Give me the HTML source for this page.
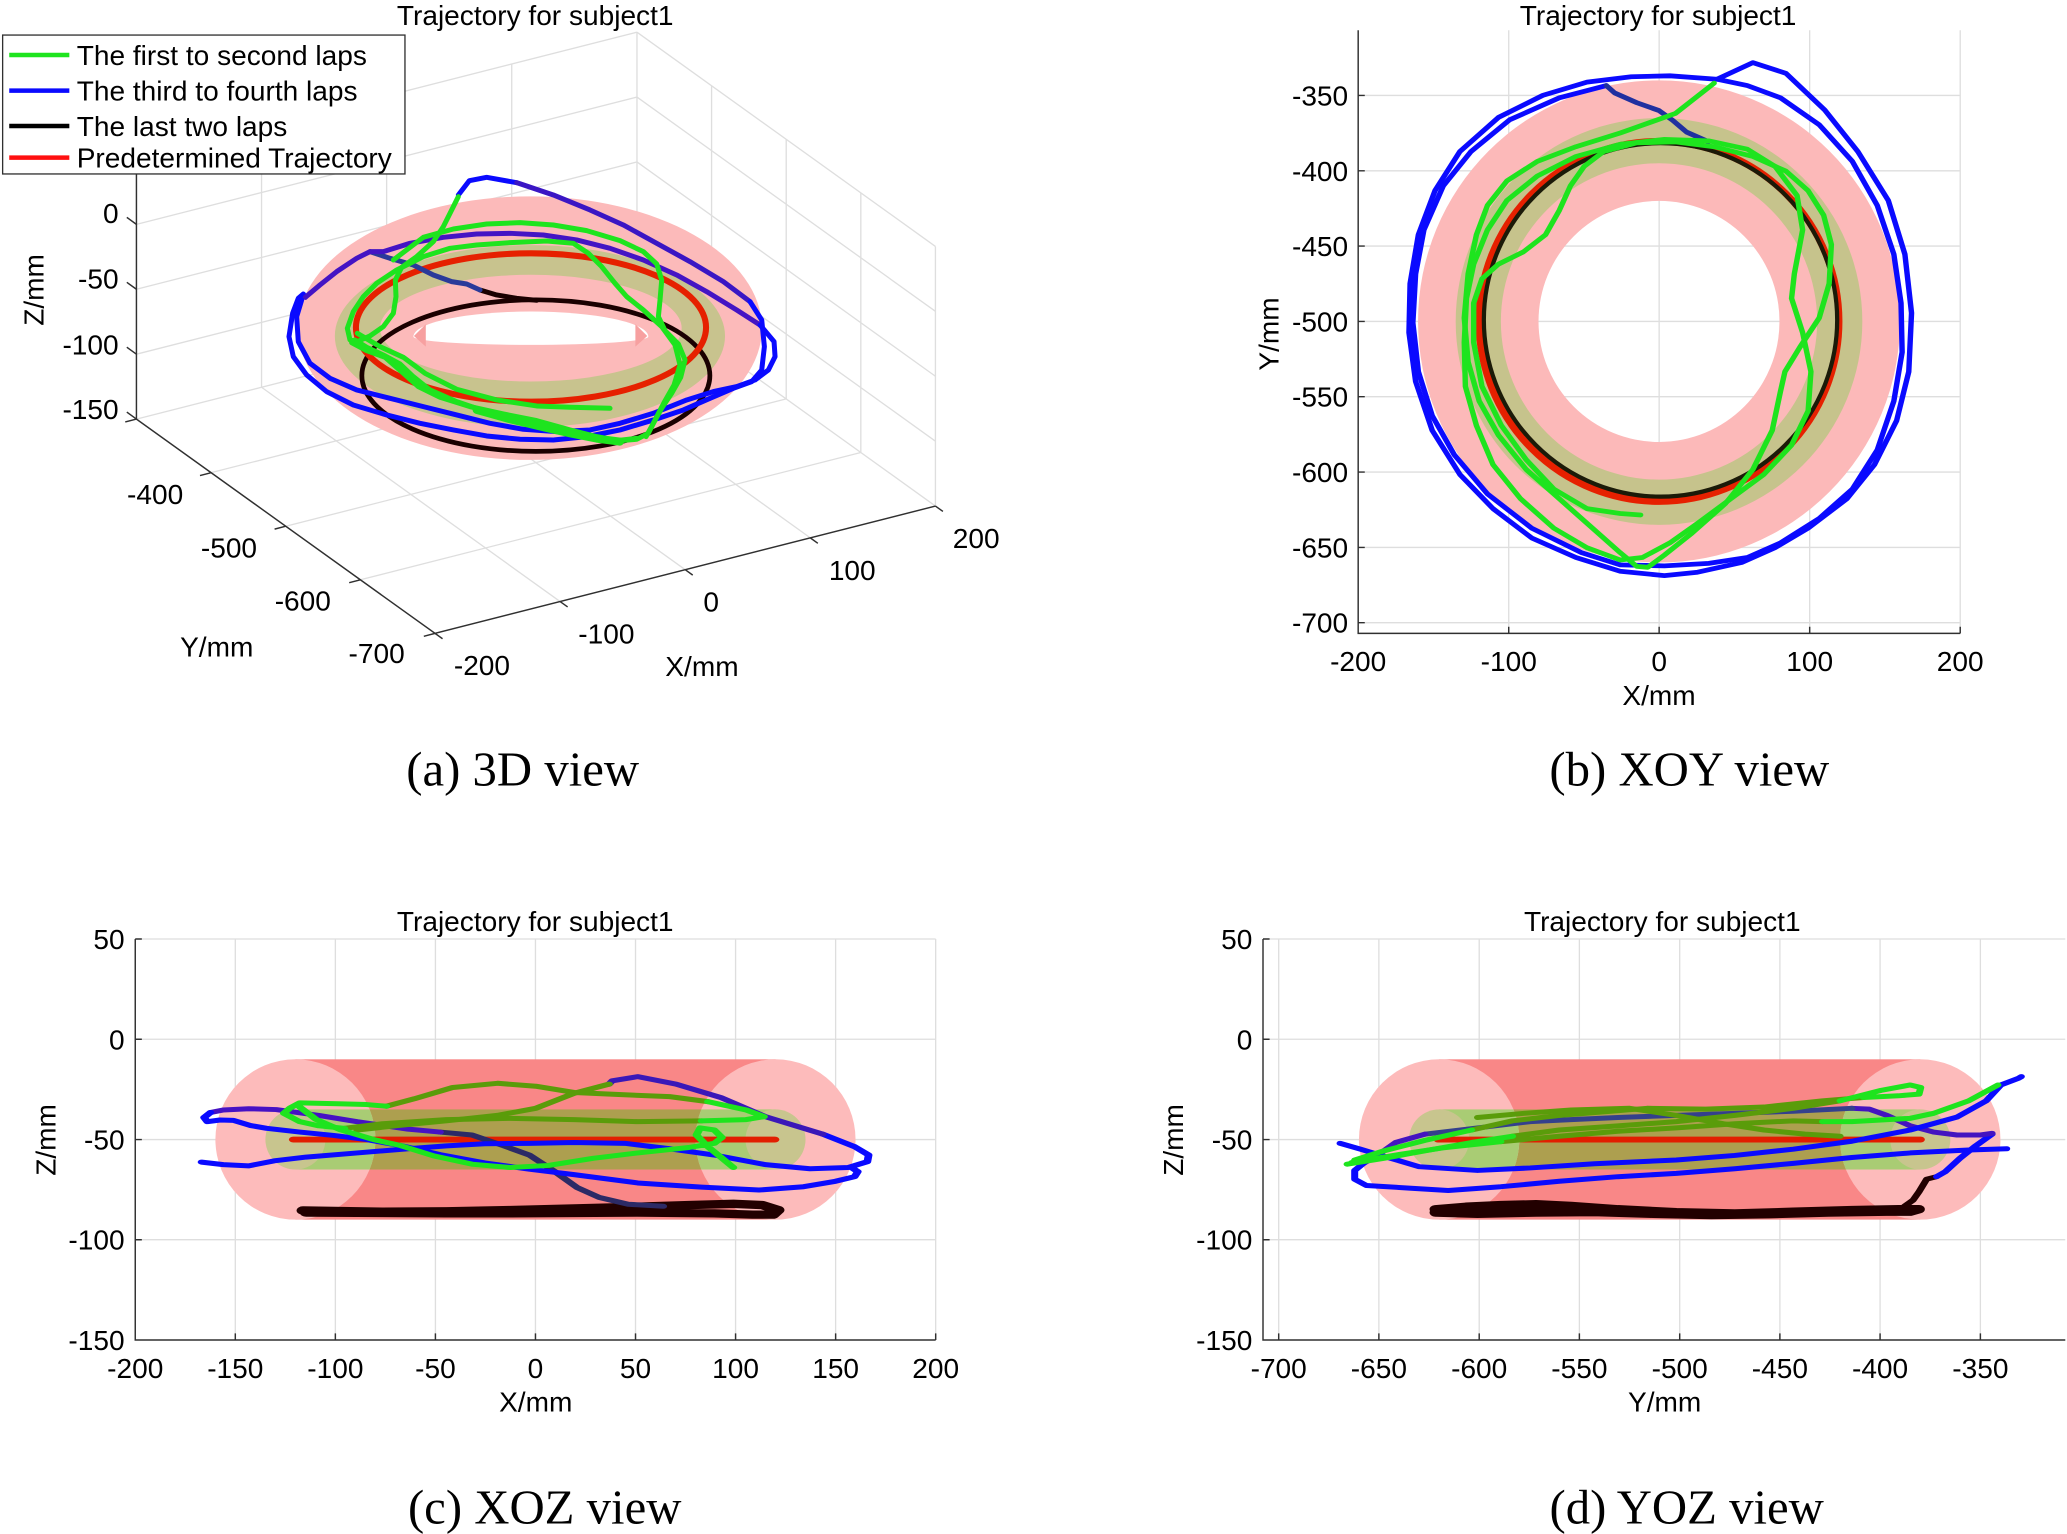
<!DOCTYPE html>
<html><head><meta charset="utf-8">
<style>
html,body{margin:0;padding:0;background:#fff;}
svg{display:block;}
text{font-family:"Liberation Sans",Arial,sans-serif;fill:#000;font-size:21.3px;}
.cap{font-family:"Liberation Serif","Times New Roman",serif;font-size:37px;}
.g{stroke:#dedede;stroke-width:1;fill:none;}
.ax{stroke:#303030;stroke-width:1.1;fill:none;}
.ns{fill:none;stroke-linejoin:round;stroke-linecap:round;}
.e{text-anchor:end;}
.m{text-anchor:middle;}
</style></head><body>
<svg width="2067" height="1534" viewBox="0 0 1568 1164" preserveAspectRatio="none" xmlns="http://www.w3.org/2000/svg">
<defs>
<clipPath id="cc"><circle cx="-120" cy="-50" r="40"/><circle cx="120" cy="-50" r="40"/></clipPath>
<clipPath id="cd"><circle cx="-620" cy="-50" r="40"/><circle cx="-380" cy="-50" r="40"/></clipPath>
</defs>
<rect x="0" y="0" width="1568" height="1164" fill="#fff"/>

<!-- ================= (a) 3D ================= -->
<g class="g">
<path d="M424.9,456.45 L198.4,293.85 M519.8,432.3 L293.3,269.7 M614.7,408.15 L388.2,245.55 M709.6,384 L483.2,221.4 M273.4,439.95 L653,343.35 M216.8,399.3 L596.4,302.7 M160.2,358.65 L539.8,262.05 M103.5,318 L483.2,221.4"/>
<path d="M198.4,293.85 V96.85 M293.3,269.7 V72.7 M388.2,245.55 V48.55 M483.2,221.4 V24.4"/>
<path d="M103.5,268.75 L483.2,172.15 M103.5,219.5 L483.2,122.9 M103.5,170.25 L483.2,73.65 M103.5,121 L483.2,24.4"/>
<path d="M709.6,384 V187 M653,343.35 V146.35 M596.4,302.7 V105.7 M539.8,262.05 V65.05"/>
<path d="M709.6,334.75 L483.2,172.15 M709.6,285.5 L483.2,122.9 M709.6,236.25 L483.2,73.65 M709.6,187 L483.2,24.4"/>
</g>
<path class="ax" d="M103.5,121 V318 L330,480.6 L709.6,384"/>
<path class="ax" d="M103.5,318 l-7.3,-5.3 M103.5,268.75 l-7.3,-5.3 M103.5,219.5 l-7.3,-5.3 M103.5,170.25 l-7.3,-5.3 M103.5,121 l-7.3,-5.3
M330,480.6 l-8.5,2.2 M273.4,439.95 l-8.5,2.2 M216.8,399.3 l-8.5,2.2 M160.2,358.65 l-8.5,2.2 M103.5,318 l-8.5,2.2
M330,480.6 l5.7,4.1 M424.9,456.45 l5.7,4.1 M519.8,432.3 l5.7,4.1 M614.7,408.15 l5.7,4.1 M709.6,384 l5.7,4.1"/>

<!-- torus 3D -->
<ellipse cx="402" cy="249" rx="176" ry="100" fill="#fcbaba"/>
<path d="M254,255 a148,69 0 1,0 296,0 a148,69 0 1,0 -296,0 Z M288.3,249 a114.4,40.5 0 1,0 228.8,0 a114.4,40.5 0 1,0 -228.8,0 Z" fill="#c8c38e" fill-rule="evenodd"/>
<path d="M313.6,255.4 A89.1,19 0 0 1 491.8,255.4 A89.1,6.3 0 0 1 313.6,255.4 Z" fill="#fff"/>
<path d="M314,255 L323,246 L323,263 Z M491,255 L482,246 L482,263 Z" fill="#f7a0a0"/>
<ellipse cx="406.5" cy="285" rx="132" ry="57.5" fill="none" stroke="#1a0000" stroke-width="3.6"/>
<ellipse cx="402.8" cy="248.5" rx="132.8" ry="56.3" fill="none" stroke="#e62000" stroke-width="4.6"/>

<g transform="matrix(0.2529 0 0 0.2529 204.8 121.4)" stroke-width="15">
<path class="ns" stroke="#1a0000" d="M630,390 L680,405 L740,415 L800,421"/>
<path class="ns" stroke="#2a3a9a" d="M300,275 L360,295 L430,315 L490,345 L545,365 L590,372 L630,390"/>
<path class="ns" stroke="#0a0aff" d="M565,105 L598,62 L650,52 L740,68"/>
<path class="ns" stroke="#3a16c4" d="M740,68 L850,105 L960,150 L1060,195 L1160,250 L1260,305 L1360,365 L1440,425"/>
<path class="ns" stroke="#0a0aff" d="M1440,425 L1475,480 L1483,560 L1475,630 L1445,665 L1390,685 L1320,715 L1240,750 L1150,780 L1050,810 L950,830 L850,840 L750,838 L650,828 L550,810 L450,790 L350,765 L250,735 L170,695 L110,645 L70,590 L57,530 L68,460 L85,415 L100,402 L106,412"/>
<path class="ns" stroke="#4414c4" d="M106,412 L150,375 L200,335 L260,295 L300,275 L340,275 L420,250 L520,232 L620,222 L720,220 L820,225 L920,240 L1020,265 L1120,300 L1220,345 L1310,395 L1400,450 L1470,495"/>
<path class="ns" stroke="#0a0aff" d="M1470,495 L1512,545 L1515,590 L1495,630 L1455,660 L1400,680 L1330,695 L1250,720 L1150,760 L1050,790 L960,810 L860,815 L760,808 L660,790 L560,765 L460,740 L360,715 L260,690 L180,655 L120,610 L85,545 L80,470 L95,420"/>
<g stroke="#1ee41e">
<path class="ns" d="M565,110 L545,150 L520,200 L490,245 L440,290 L395,322 L376,360 L378,410 L370,460 L340,500 L300,528 L262,545 L240,540 L232,505 L250,455 L280,410 L320,370 L380,330 L460,290 L540,265 L620,255 L720,248 L830,243 L910,250 L955,280 L995,320 L1035,370 L1070,410 L1120,450 L1175,500 L1215,555 L1230,615 L1212,675 L1182,728 L1155,780 L1135,820 L1100,838 L1050,842 L990,835 L930,822 L870,812 L800,795 L720,775 L640,752 L560,725 L480,690 L430,650 L390,612 L340,585 L290,562 L255,540"/>
<path class="ns" d="M370,300 L460,232 L550,207 L650,192 L750,188 L850,195 L950,212 L1050,242 L1120,275 L1160,312 L1175,360 L1170,420 L1165,470 L1185,512 L1225,552 L1245,600 L1232,652 L1205,700 L1175,745 L1150,790 L1128,830"/>
<path class="ns" d="M245,548 L290,572 L345,592 L400,640 L445,680 L510,712 L600,740 L700,762 L800,782 L900,810 L980,830 L1040,842 L1100,835"/>
<path class="ns" d="M262,520 L330,560 L400,592 L465,640 L560,688 L680,720 L800,738 L900,742 L1020,745"/>
<path class="ns" stroke-width="24" d="M620,750 L720,778 L820,802 L900,820 L980,836 L1050,845"/>
</g>
</g>

<!-- legend -->
<rect x="2" y="26.6" width="305.2" height="105.4" fill="#fff" stroke="#303030" stroke-width="1"/>
<path d="M7,41.7 H52.6" stroke="#1ee41e" stroke-width="3.4"/>
<path d="M7,68.8 H52.6" stroke="#0a0aff" stroke-width="3.4"/>
<path d="M7,95.6 H52.6" stroke="#000" stroke-width="3.4"/>
<path d="M7,119.6 H52.6" stroke="#ff1010" stroke-width="3.4"/>
<text x="58.2" y="49.3">The first to second laps</text>
<text x="58.2" y="76.4">The third to fourth laps</text>
<text x="58.2" y="103.2">The last two laps</text>
<text x="58.2" y="127.2">Predetermined Trajectory</text>

<text class="m" x="406" y="19">Trajectory for subject1</text>
<text class="e" x="90" y="169.1">0</text>
<text class="e" x="90" y="219.1">-50</text>
<text class="e" x="90" y="269.1">-100</text>
<text class="e" x="90" y="318.1">-150</text>
<text class="e" x="139" y="382.3">-400</text>
<text class="e" x="195" y="423.1">-500</text>
<text class="e" x="251" y="463.1">-600</text>
<text class="e" x="307" y="503.1">-700</text>
<text class="m" x="365.6" y="512.3">-200</text>
<text class="m" x="460" y="488.3">-100</text>
<text class="m" x="539.5" y="464.1">0</text>
<text class="m" x="646.5" y="440.1">100</text>
<text class="m" x="740.5" y="415.9">200</text>
<text class="m" x="164.4" y="498">Y/mm</text>
<text class="m" x="532.5" y="513">X/mm</text>
<text class="m" transform="translate(33,220) rotate(-90)">Z/mm</text>
<text class="cap m" x="396.5" y="596">(a) 3D view</text>

<!-- ================= (b) XOY ================= -->
<g class="g">
<path d="M1144.5,23 V480.6 M1258.6,23 V480.6 M1372.8,23 V480.6 M1487,23 V480.6"/>
<path d="M1030.3,72.4 H1487 M1030.3,129.6 H1487 M1030.3,186.7 H1487 M1030.3,243.9 H1487 M1030.3,301 H1487 M1030.3,358.2 H1487 M1030.3,415.4 H1487 M1030.3,472.5 H1487"/>
</g>
<g transform="matrix(1.1425 0 0 -1.1432 1258.5 -327.7)">
<path d="M-160,-500 a160,160 0 1,0 320,0 a160,160 0 1,0 -320,0 Z M-80,-500 a80,80 0 1,0 160,0 a80,80 0 1,0 -160,0 Z" fill="#fcb9b9" fill-rule="evenodd"/>
<path d="M-135,-500 a135,135 0 1,0 270,0 a135,135 0 1,0 -270,0 Z M-105,-500 a105,105 0 1,0 210,0 a105,105 0 1,0 -210,0 Z" fill="#c6c38c" fill-rule="evenodd"/>
<circle class="ns" cx="0" cy="-500" r="119.5" stroke="#e62000" stroke-width="4.6"/>
<circle class="ns" cx="1" cy="-499" r="117.3" stroke="#1b1a08" stroke-width="2.8"/>
</g>
<path class="ax" d="M1030.3,23 V480.6 H1487"/>
<path class="ax" d="M1144.5,480.6 v-5 M1258.6,480.6 v-5 M1372.8,480.6 v-5 M1487,480.6 v-5 M1030.3,72.4 h5 M1030.3,129.6 h5 M1030.3,186.7 h5 M1030.3,243.9 h5 M1030.3,301 h5 M1030.3,358.2 h5 M1030.3,415.4 h5 M1030.3,472.5 h5"/>
<g transform="matrix(0.4194 0 0 0.3711 910.3 0)" stroke-width="9.8">
<path class="ns" stroke="#0a0aff" d="M935,162 L1000,128 L1060,150 L1130,225 L1190,310 L1245,410 L1275,520 L1287,640 L1282,760 L1260,860 L1220,950 L1170,1020 L1100,1080 L1040,1120 L980,1150 L900,1170 L840,1177 L760,1168 L680,1140 L600,1100 L530,1040 L470,970 L420,880 L390,780 L378,680 L380,580 L395,480 L425,390 L470,310 L540,240 L620,195 L700,168 L780,157 L850,155 L935,162"/>
<path class="ns" stroke="#0a0aff" d="M735,175 L650,200 L560,245 L490,310 L440,380 L405,470 L390,560 L385,660 L395,760 L420,850 L460,930 L520,1010 L600,1080 L690,1130 L760,1155 L840,1157 L920,1152 L990,1140 L1050,1110 L1120,1060 L1180,1000 L1225,920 L1255,820 L1270,720 L1268,620 L1255,520 L1225,420 L1180,330 L1120,255 L1050,200 L990,175 L935,162"/>
<path class="ns" stroke="#2030a0" d="M735,175 L750,190 L790,210 L830,226 L855,246 L880,270 L920,290"/>
<path class="ns" stroke="#1ee41e" d="M930,170 L860,232 L760,272 L680,300 L610,330 L555,370 L520,420 L500,480 L485,560 L478,650 L485,740 L505,820 L540,890 L590,960 L650,1020 L710,1080 L760,1130 L790,1158 L810,1160 L840,1135 L890,1090 L950,1030 L1000,960 L1035,880 L1050,800 L1058,760 L1085,710 L1120,650 L1138,580 L1142,500 L1128,440 L1100,390 L1060,350 L1000,320 L930,300 L860,290 L790,292 L730,310 L695,340 L670,380 L650,430 L625,480 L585,515 L540,540 L510,570 L495,620 L495,700 L510,790 L545,870 L590,940 L640,1000 L700,1040 L760,1050 L797,1053"/>
<path class="ns" stroke="#1ee41e" d="M1080,400 L1090,470 L1075,560 L1070,610 L1090,680 L1105,760 L1100,840 L1070,910 L1020,970 L960,1020 L900,1070 L850,1110 L800,1140 L760,1145 L700,1120 L640,1080 L580,1020 L530,950 L500,870 L480,790 L478,700 L482,610 L495,540 L520,470 L555,410 L610,360 L680,320 L760,295 L840,285 L920,288 L990,305 L1040,340 L1080,400"/>
</g>
<text class="m" x="1257.8" y="19">Trajectory for subject1</text>
<text class="e" x="1022.7" y="80">-350</text>
<text class="e" x="1022.7" y="137.2">-400</text>
<text class="e" x="1022.7" y="194.3">-450</text>
<text class="e" x="1022.7" y="251.5">-500</text>
<text class="e" x="1022.7" y="308.6">-550</text>
<text class="e" x="1022.7" y="365.8">-600</text>
<text class="e" x="1022.7" y="423">-650</text>
<text class="e" x="1022.7" y="480.1">-700</text>
<text class="m" x="1030.3" y="509">-200</text>
<text class="m" x="1144.5" y="509">-100</text>
<text class="m" x="1258.6" y="509">0</text>
<text class="m" x="1372.8" y="509">100</text>
<text class="m" x="1487" y="509">200</text>
<text class="m" x="1258.5" y="535">X/mm</text>
<text class="m" transform="translate(970,253.4) rotate(-90)">Y/mm</text>
<text class="cap m" x="1281.5" y="596">(b) XOY view</text>

<!-- ================= (c) XOZ ================= -->
<g class="g">
<path d="M178.5,712.5 V1016.8 M254.4,712.5 V1016.8 M330.3,712.5 V1016.8 M406.2,712.5 V1016.8 M482.1,712.5 V1016.8 M558,712.5 V1016.8 M633.9,712.5 V1016.8 M709.8,712.5 V1016.8"/>
<path d="M102.6,712.5 H709.8 M102.6,788.6 H709.8 M102.6,864.7 H709.8 M102.6,940.7 H709.8"/>
</g>
<g transform="matrix(1.5175 0 0 -1.5205 406.2 788.6)">
<rect x="-120" y="-90" width="240" height="80" fill="#f98787"/>
<rect x="-120" y="-65" width="240" height="30" fill="#ad9f4f"/>
<circle cx="-120" cy="-50" r="40" fill="#fdbbbb"/>
<circle cx="120" cy="-50" r="40" fill="#fdbbbb"/>
<rect x="-120" y="-65" width="240" height="30" fill="#a9cc74" clip-path="url(#cc)"/>
<circle cx="-120" cy="-50" r="15" fill="#c8c58e"/>
<circle cx="120" cy="-50" r="15" fill="#c8c58e"/>
</g>
<path class="ax" d="M102.6,712.5 V1016.8 H709.8"/>
<path class="ax" d="M178.5,1016.8 v-5 M254.4,1016.8 v-5 M330.3,1016.8 v-5 M406.2,1016.8 v-5 M482.1,1016.8 v-5 M558,1016.8 v-5 M633.9,1016.8 v-5 M709.8,1016.8 v-5 M102.6,712.5 h5 M102.6,788.6 h5 M102.6,864.7 h5 M102.6,940.7 h5"/>
<g transform="matrix(0.4838 0 0 0.3164 0 667.6)" stroke-width="12">
<path class="ns" stroke="#e21e00" stroke-width="14" d="M460,623 L1215,623"/>
<path class="ns" stroke="#220000" stroke-width="20" d="M475,793 L600,796 L700,795 L800,792 L900,788 L1000,784 L1080,780 L1150,777 L1195,780 L1220,792 L1212,803 L1180,803 L1120,800 L1000,798 L900,799 L800,800 L700,800 L600,799 L480,798"/>
<path class="ns" stroke="#2c2a66" d="M690,605 L740,612 L790,638 L830,660 L870,700 L905,738 L940,762 L985,778 L1040,783"/>
<path class="ns" stroke="#4612c4" d="M690,605 L640,598 L560,580 L500,565 L433,551 L390,549 L350,552 L330,558"/>
<path class="ns" stroke="#0a0aff" d="M330,558 L320,570 L325,580 L345,576 L366,577 L392,589 L418,596 L470,605 L523,613 L575,623 L627,637 L690,659 L760,679 L830,694 L900,707 L1000,727 L1100,737 L1190,744 L1260,736 L1310,723 L1340,712 L1345,700 L1335,690"/>
<path class="ns" stroke="#0a0aff" d="M316,677 L350,683 L390,686 L430,674 L480,665 L560,655 L640,645 L700,638 L760,633 L830,632 L900,630 L980,632 L1050,645 L1120,660 L1200,683 L1270,693 L1330,690 L1360,676 L1362,660 L1340,640 L1290,610"/>
<path class="ns" stroke="#3a18b8" d="M1290,610 L1200,568 L1130,522 L1060,490 L1000,472 L960,482 L955,490"/>
<g stroke="#5a9c0a">
<path class="ns" d="M955,490 L900,512 L840,548 L780,565 L700,578 L620,590 L560,600"/>
<path class="ns" d="M606,543 L650,525 L710,498 L780,488 L840,495 L900,510 L970,515 L1050,520 L1110,532"/>
<path class="ns" d="M1100,578 L1000,580 L900,575 L800,572 L700,575 L600,585 L540,596"/>
</g>
<g stroke="#1ee41e">
<path class="ns" d="M540,596 L500,590 L470,580 L445,560 L455,547 L470,535 L530,537 L575,539 L606,543"/>
<path class="ns" d="M1110,532 L1170,552 L1198,568 L1170,575 L1100,578"/>
<path class="ns" d="M470,545 L496,575 L533,599 L586,623 L627,637 L680,662 L740,682 L800,690 L860,685 L930,668 L1000,655 L1080,642 L1120,632 L1132,618 L1120,600 L1098,595 L1092,612 L1110,640 L1130,665 L1150,690"/>
</g>
</g>
<text class="m" x="406" y="706.5">Trajectory for subject1</text>
<text class="e" x="94.5" y="720.1">50</text>
<text class="e" x="94.5" y="796.2">0</text>
<text class="e" x="94.5" y="872.3">-50</text>
<text class="e" x="94.5" y="948.3">-100</text>
<text class="e" x="94.5" y="1024.4">-150</text>
<text class="m" x="102.6" y="1045.5">-200</text>
<text class="m" x="178.5" y="1045.5">-150</text>
<text class="m" x="254.4" y="1045.5">-100</text>
<text class="m" x="330.3" y="1045.5">-50</text>
<text class="m" x="406.2" y="1045.5">0</text>
<text class="m" x="482.1" y="1045.5">50</text>
<text class="m" x="558" y="1045.5">100</text>
<text class="m" x="633.9" y="1045.5">150</text>
<text class="m" x="709.8" y="1045.5">200</text>
<text class="m" x="406.4" y="1071">X/mm</text>
<text class="m" transform="translate(42,865) rotate(-90)">Z/mm</text>
<text class="cap m" x="413.2" y="1156">(c) XOZ view</text>

<!-- ================= (d) YOZ ================= -->
<g class="g">
<path d="M970,712.5 V1016.8 M1046,712.5 V1016.8 M1122.1,712.5 V1016.8 M1198.1,712.5 V1016.8 M1274.2,712.5 V1016.8 M1350.2,712.5 V1016.8 M1426.2,712.5 V1016.8 M1502.3,712.5 V1016.8"/>
<path d="M958.1,712.5 H1566.7 M958.1,788.6 H1566.7 M958.1,864.7 H1566.7 M958.1,940.7 H1566.7"/>
</g>
<g transform="matrix(1.5208 0 0 -1.5205 2034.6 788.6)">
<rect x="-620" y="-90" width="240" height="80" fill="#f98787"/>
<rect x="-620" y="-65" width="240" height="30" fill="#ad9f4f"/>
<circle cx="-620" cy="-50" r="40" fill="#fdbbbb"/>
<circle cx="-380" cy="-50" r="40" fill="#fdbbbb"/>
<rect x="-620" y="-65" width="240" height="30" fill="#a9cc74" clip-path="url(#cd)"/>
<circle cx="-620" cy="-50" r="15" fill="#c8c58e"/>
<circle cx="-380" cy="-50" r="15" fill="#c8c58e"/>
</g>
<path class="ax" d="M958.1,712.5 V1016.8 H1566.7"/>
<path class="ax" d="M970,1016.8 v-5 M1046,1016.8 v-5 M1122.1,1016.8 v-5 M1198.1,1016.8 v-5 M1274.2,1016.8 v-5 M1350.2,1016.8 v-5 M1426.2,1016.8 v-5 M1502.3,1016.8 v-5 M958.1,712.5 h5 M958.1,788.6 h5 M958.1,864.7 h5 M958.1,940.7 h5"/>
<g transform="matrix(0.4436 0 0 0.3164 872.4 667.6)" stroke-width="12">
<path class="ns" stroke="#e21e00" stroke-width="14" d="M492,623 L1318,623"/>
<path class="ns" stroke="#220000" stroke-width="20" d="M488,790 L540,784 L600,780 L660,778 L720,782 L800,790 L900,797 L1000,800 L1100,796 L1200,792 L1280,790 L1315,790 L1300,796 L1260,796 L1160,798 L1060,802 L960,804 L860,801 L760,797 L660,798 L560,801 L488,798"/>
<path class="ns" stroke="#220000" d="M1290,783 L1305,768 L1315,748 L1328,718 L1345,712"/>
<path class="ns" stroke="#0a0aff" d="M1345,712 L1360,700 L1385,668 L1410,640 L1440,610"/>
<path class="ns" stroke="#4414c0" d="M1440,608 L1420,612 L1380,612 L1340,605 L1300,590 L1260,565 L1230,550 L1200,548"/>
<path class="ns" stroke="#34408c" d="M1200,548 L1100,555 L1000,560 L900,565 L800,570 L720,575 L650,580 L560,595 L470,610"/>
<path class="ns" stroke="#4414c0" d="M470,610 L420,630 L390,660 L365,680"/>
<path class="ns" stroke="#0a0aff" d="M365,680 L350,697 L350,718 L370,733 L450,740 L510,745 L600,736 L700,723 L800,712 L900,704 L1000,693 L1100,680 L1200,666 L1300,655 L1400,648 L1465,645"/>
<path class="ns" stroke="#0a0aff" d="M325,632 L360,646 L400,663 L460,688 L560,697 L650,691 L760,681 L900,672 L1000,661 L1100,646 L1200,627 L1300,600 L1380,569 L1430,530 L1455,492 L1485,476 L1490,472"/>
<g stroke="#5a9c0a">
<path class="ns" d="M620,615 L700,600 L800,590 L900,580 L1000,565 L1100,548 L1180,530"/>
<path class="ns" d="M1220,522 L1150,530 L1050,545 L950,550 L850,548 L780,556 L700,565 L620,578 L550,600"/>
<path class="ns" d="M600,628 L700,615 L800,603 L900,595 L1000,585 L1100,578 L1150,580"/>
<path class="ns" d="M560,570 L640,560 L720,552 L820,548 L900,565 L980,585 L1050,600 L1120,610 L1180,615"/>
</g>
<g stroke="#1ee41e">
<path class="ns" d="M337,682 L400,668 L470,650 L550,630 L620,615"/>
<path class="ns" d="M1180,530 L1250,505 L1300,492 L1318,498 L1315,514 L1280,518 L1220,522"/>
<path class="ns" d="M550,600 L470,625 L400,650 L350,672"/>
<path class="ns" d="M345,678 L420,660 L500,643 L600,628"/>
<path class="ns" d="M1150,580 L1200,580 L1300,572 L1340,560 L1400,530 L1450,492"/>
</g>
</g>
<text class="m" x="1261" y="706.5">Trajectory for subject1</text>
<text class="e" x="950" y="720.1">50</text>
<text class="e" x="950" y="796.2">0</text>
<text class="e" x="950" y="872.3">-50</text>
<text class="e" x="950" y="948.3">-100</text>
<text class="e" x="950" y="1024.4">-150</text>
<text class="m" x="970" y="1045.5">-700</text>
<text class="m" x="1046" y="1045.5">-650</text>
<text class="m" x="1122.1" y="1045.5">-600</text>
<text class="m" x="1198.1" y="1045.5">-550</text>
<text class="m" x="1274.2" y="1045.5">-500</text>
<text class="m" x="1350.2" y="1045.5">-450</text>
<text class="m" x="1426.2" y="1045.5">-400</text>
<text class="m" x="1502.3" y="1045.5">-350</text>
<text class="m" x="1262.8" y="1071">Y/mm</text>
<text class="m" transform="translate(897.5,865) rotate(-90)">Z/mm</text>
<text class="cap m" x="1279.5" y="1156">(d) YOZ view</text>
</svg>
</body></html>
